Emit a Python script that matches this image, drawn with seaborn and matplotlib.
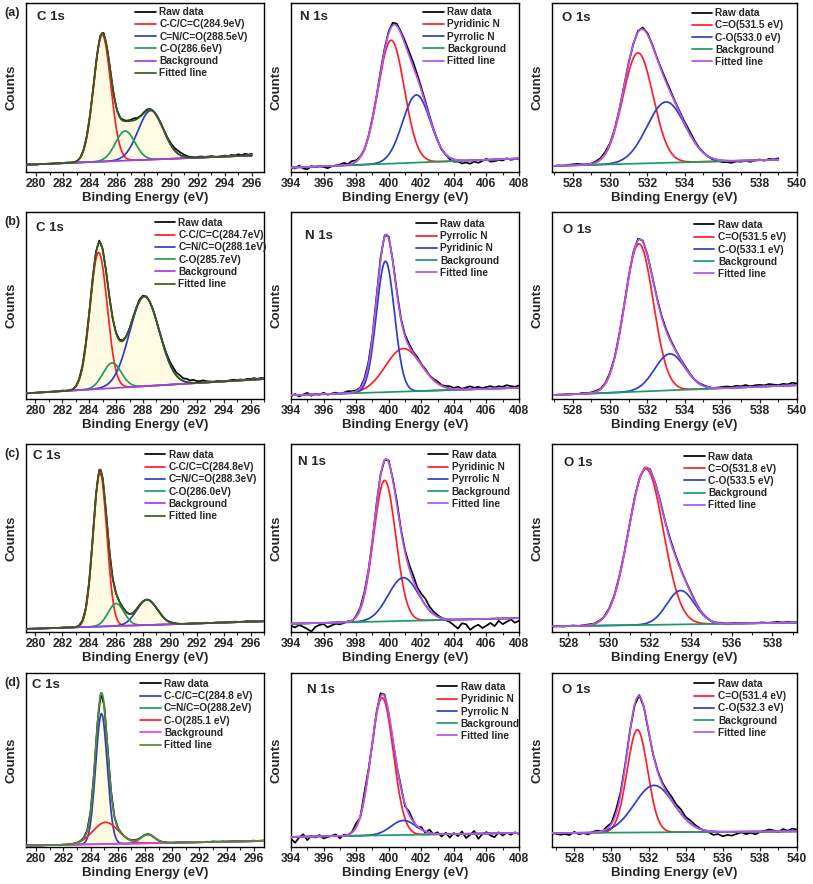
import numpy as np
import matplotlib
matplotlib.use('Agg')
import matplotlib.pyplot as plt
import seaborn as sns
from matplotlib.ticker import MultipleLocator

# ---------------- data (arbitrary count units) ----------------
# peak centres (eV), heights above background, FWHM (eV), background at both ends
# raw_dev = raw data minus fitted line, in 1/1000 units, sampled every 0.25 eV

# row (a)
ca_labels = ['C-C/C=C(284.9eV)', 'C=N/C=O(288.5eV)', 'C-O(286.6eV)']
ca_centers = [284.9, 288.5, 286.6]
ca_heights = [0.75, 0.29, 0.175]
ca_fwhm = [1.5, 2.2, 1.7]
ca_bg = [0.043, 0.098]
ca_raw_start = 279.25
ca_raw_dev = [0, 2, 0, -2, 0, 1, 0, -1, 0, 2,
              0, 0, 3, 2, 0, -2, 0, 3, 5, 4,
              2, 4, 8, 6, 3, 0, -4, -2, 3, 5,
              4, 6, 12, 5, 2, 4, 6, 3, 0, -2,
              2, 4, 6, 10, 14, 18, 16, 12, 6, 4,
              2, 5, 6, 3, 4, 6, 2, 0, 3, 6,
              2, 8, 4, 10, 3, 12, 6, 9]

na_labels = ['Pyridinic N', 'Pyrrolic N']
na_centers = [400.15, 401.7]
na_heights = [0.73, 0.40]
na_fwhm = [1.9, 2.0]
na_bg = [0.026, 0.08]
na_raw_start = 394.0
na_raw_dev = [0, -6, 10, -8, -14, 4, -4, 2,
              -4, -12, -2, 2, 6, 14, 4, 16,
              6, 4, -4, 2, 6, 4, 8, 10,
              12, 16, 14, 10, 18, 22, 26, 20,
              14, 12, 8, 4, 2, -6, -2, -10,
              -14, -8, -18, -12, -20, -8, -16, -6,
              6, -12, -10, -4, -8, 4, -6, -2, 0]

oa_labels = ['C=O(531.5 eV)', 'C-O(533.0 eV)']
oa_centers = [531.5, 533.0]
oa_heights = [0.655, 0.36]
oa_fwhm = [1.9, 2.4]
oa_bg = [0.036, 0.073]
oa_raw_start = 527.0
oa_raw_dev = [0, 2, -2, 4, 6, 8, 4, 2,
              2, 6, 8, 10, 4, 2, 0, 4,
              6, 4, 8, 10, 8, 6, 4, 8,
              12, 10, 6, 8, 10, 14, 8, 4,
              2, -2, -6, -4, -10, -8, -12, -4,
              -6, -2, -8, 0, 4, -4, 6, 2, 8]

# row (b)
cb_labels = ['C-C/C=C(284.7eV)', 'C=N/C=O(288.1eV)', 'C-O(285.7eV)']
cb_centers = [284.7, 288.1, 285.7]
cb_heights = [0.73, 0.48, 0.135]
cb_fwhm = [1.5, 2.6, 1.6]
cb_bg = [0.03, 0.107]
cb_raw_start = 279.25
cb_raw_dev = [0, 1, 0, -1, 0, 2, 0, 1, 0, 0,
              2, 3, 1, 0, -2, 0, 4, 6, 8, 5,
              6, 8, 10, 6, 2, -2, 0, 2, 4, 2,
              0, -2, 2, 4, 8, 6, 4, 2, 3, 2,
              4, 6, 10, 14, 18, 16, 20, 14, 18, 12,
              16, 10, 8, 12, 6, 4, 2, 4, 3, 0,
              2, 4, 6, 3, 5, 2, 6, 4, 8, 3, 6, 4]

nb_labels = ['Pyrrolic N', 'Pyridinic N']
nb_centers = [400.9, 399.8]
nb_heights = [0.23, 0.70]
nb_fwhm = [2.6, 1.3]
nb_bg = [0.02, 0.06]
nb_raw_start = 394.0
nb_raw_dev = [-4, 6, -8, 2, 10, -6, 4, -2,
              8, -4, 2, 6, -2, 4, 10, 6,
              4, 2, 8, 12, 6, 10, 14, 8,
              12, 6, 10, 4, 8, 12, 6, 10,
              4, 8, 2, 6, 10, 4, 8, 12,
              6, 14, 4, 10, 16, 8, 12, 4,
              10, 14, 6, 12, 8, 16, 10, 6, 12]

ob_labels = ['C=O(531.5 eV)', 'C-O(533.1 eV)']
ob_centers = [531.55, 533.2]
ob_heights = [0.79, 0.195]
ob_fwhm = [1.8, 1.9]
ob_bg = [0.021, 0.074]
ob_raw_start = 527.0
ob_raw_dev = [0, 2, 0, 3, 2, 0, 4, 2,
              3, 5, 2, 4, 6, 3, 5, 2,
              4, 6, 8, 5, 3, 2, 4, 6,
              8, 6, 4, 2, 5, 3, 1, 2,
              4, 2, 0, 3, 6, 8, 4, 10,
              6, 12, 4, 8, 10, 6, 12, 8,
              4, 10, 6, 14, 8]

# row (c)
cc_labels = ['C-C/C=C(284.8eV)', 'C=N/C=O(288.3eV)', 'C-O(286.0eV)']
cc_centers = [284.8, 288.3, 286.0]
cc_heights = [0.82, 0.135, 0.12]
cc_fwhm = [1.2, 1.8, 1.4]
cc_bg = [0.016, 0.057]
cc_raw_start = 279.25
cc_raw_dev = [0, 1, 0, -1, 0, 1, 0, 0, 1, 0,
              0, 1, 2, 1, 0, -1, 2, 3, 4, 2,
              3, 6, 4, 2, 0, -2, 0, 1, 2, 3,
              2, 1, 0, 2, 3, 2, 1, 0, 0, 1,
              2, 1, 0, 1, 2, 1, 0, -1, 0, 1,
              2, 1, 0, 1, 2, 0, 1, 2, 1, 0,
              2, 1, 3, 2, 1, 2, 4, 2, 3, 1, 2, 3]

nc_labels = ['Pyridinic N', 'Pyrrolic N']
nc_centers = [399.75, 400.9]
nc_heights = [0.75, 0.23]
nc_fwhm = [1.6, 2.2]
nc_bg = [0.044, 0.074]
nc_raw_start = 394.0
nc_raw_dev = [-12, -20, -8, -18, -30, -44, -20, -10,
              -6, -24, -14, -6, -10, -4, 2, -6,
              4, 6, 10, 0, -6, 4, 8, 2,
              10, 6, 18, 8, 10, 20, 28, 16,
              24, 34, 20, 14, 8, 2, -6, -14,
              -30, -48, -20, -26, -56, -40, -30, -48,
              -36, -22, -40, -12, -30, -18, -6, -24, -14]

oc_labels = ['C=O(531.8 eV)', 'C-O(533.5 eV)']
oc_centers = [531.8, 533.5]
oc_heights = [0.83, 0.18]
oc_fwhm = [2.0, 1.6]
oc_bg = [0.03, 0.05]
oc_raw_start = 527.25
oc_raw_dev = [0, 2, -2, 1, 3, 0, 2, 4,
              2, 3, 1, 4, 2, 5, 3, 4,
              6, 4, 2, 5, 3, 6, 4, 8,
              6, 4, 2, 5, 3, 0, 2, -2,
              0, 3, -1, 2, 4, 1, 3, 0,
              2, 4, 1, 3, 5, 2, 4, 1, 3]

# row (d)
cd_labels = ['C-C/C=C(284.8 eV)', 'C=N/C=O(288.2eV)', 'C-O(285.1 eV)']
cd_centers = [284.8, 288.2, 285.1]
cd_heights = [0.75, 0.05, 0.125]
cd_fwhm = [1.0, 1.2, 2.2]
cd_bg = [0.008, 0.035]
cd_raw_start = 279.25
cd_raw_dev = [0, 0, 1, 0, -1, 0, 1, 0, 0, 1,
              0, 1, 0, 2, 1, 0, 2, 3, 2, 1,
              3, 5, 6, 3, 1, 0, -2, 0, 2, 1,
              0, 1, 2, 1, 0, 2, 3, 2, 1, 0,
              1, 2, 1, 0, 1, 2, 1, 3, 2, 1,
              2, 1, 0, 2, 1, 3, 2, 1, 2, 0,
              1, 2, 3, 1, 2, 0, 2, 3, 1, 2, 3, 2]

nd_labels = ['Pyridinic N', 'Pyrrolic N']
nd_centers = [399.6, 400.9]
nd_heights = [0.79, 0.083]
nd_fwhm = [1.6, 1.8]
nd_bg = [0.058, 0.081]
nd_raw_start = 394.0
nd_raw_dev = [-10, -34, -4, 14, -20, 4, -6, 8,
              -12, -4, 2, 10, -14, 6, -2, 4,
              22, -6, 30, 12, -10, 8, 20, 10,
              -14, -20, -6, 10, -12, 18, 4, -8,
              12, -8, 18, -4, 10, -14, 8, -20,
              6, -12, 14, -24, -6, 16, -30, -4,
              8, -12, -22, 6, -14, 2, -10, 4, -6]

od_labels = ['C=O(531.4 eV)', 'C-O(532.3 eV)']
od_centers = [531.4, 532.3]
od_heights = [0.59, 0.27]
od_fwhm = [1.3, 2.5]
od_bg = [0.08, 0.09]
od_raw_start = 526.75
od_raw_dev = [0, -4, -10, -6, -12, 6, -8, -2,
              -10, 4, 8, -4, 12, 6, 22, 14,
              8, 4, -4, 6, 2, -6, -2, 4,
              8, 14, 20, 16, 24, 12, 18, 10,
              4, -4, -8, -20, -14, -26, -18, -22,
              -12, -4, -14, -6, -16, -2, 4, 12,
              6, -4, 14, 4, 16, 10]

# ---------------- styles ----------------
RED, BLUE, GREEN = '#ff1f2a', '#2b3fc9', '#1f9a63'
PURPLE, OLIVE = '#a63ce6', '#3b5a1a'
VIOLET = '#b653f2'

panels = [
    dict(kind='C', labels=ca_labels, centers=ca_centers, heights=ca_heights, fwhm=ca_fwhm, bg=ca_bg,
         start=ca_raw_start, dev=ca_raw_dev, cols=[RED, BLUE, GREEN], bgc=PURPLE, fitc=OLIVE,
         xlim=(279.25, 296.9), title=(0.045, 0.92), leg=(0.46, 0.975), tag='(a)'),
    dict(kind='N', labels=na_labels, centers=na_centers, heights=na_heights, fwhm=na_fwhm, bg=na_bg,
         start=na_raw_start, dev=na_raw_dev, cols=[RED, BLUE], bgc=GREEN, fitc=VIOLET,
         xlim=(394, 408), title=(0.04, 0.92), leg=(0.58, 0.975)),
    dict(kind='O', labels=oa_labels, centers=oa_centers, heights=oa_heights, fwhm=oa_fwhm, bg=oa_bg,
         start=oa_raw_start, dev=oa_raw_dev, cols=[RED, BLUE], bgc=GREEN, fitc=VIOLET,
         xlim=(526.9, 540), title=(0.04, 0.91), leg=(0.57, 0.97)),
    dict(kind='C', labels=cb_labels, centers=cb_centers, heights=cb_heights, fwhm=cb_fwhm, bg=cb_bg,
         start=cb_raw_start, dev=cb_raw_dev, cols=[RED, BLUE, GREEN], bgc=PURPLE, fitc=OLIVE,
         xlim=(279.3, 297.0), title=(0.04, 0.915), leg=(0.54, 0.968), tag='(b)'),
    dict(kind='N', labels=nb_labels, centers=nb_centers, heights=nb_heights, fwhm=nb_fwhm, bg=nb_bg,
         start=nb_raw_start, dev=nb_raw_dev, cols=[RED, BLUE], bgc=GREEN, fitc=VIOLET,
         xlim=(394, 408), title=(0.06, 0.87), leg=(0.55, 0.963)),
    dict(kind='O', labels=ob_labels, centers=ob_centers, heights=ob_heights, fwhm=ob_fwhm, bg=ob_bg,
         start=ob_raw_start, dev=ob_raw_dev, cols=[RED, BLUE], bgc=GREEN, fitc=VIOLET,
         xlim=(526.9, 540), title=(0.045, 0.905), leg=(0.58, 0.957)),
    dict(kind='C', labels=cc_labels, centers=cc_centers, heights=cc_heights, fwhm=cc_fwhm, bg=cc_bg,
         start=cc_raw_start, dev=cc_raw_dev, cols=[RED, BLUE, GREEN], bgc=PURPLE, fitc=OLIVE,
         xlim=(279.3, 297.0), title=(0.03, 0.935), leg=(0.50, 0.968), tag='(c)'),
    dict(kind='N', labels=nc_labels, centers=nc_centers, heights=nc_heights, fwhm=nc_fwhm, bg=nc_bg,
         start=nc_raw_start, dev=nc_raw_dev, cols=[RED, BLUE], bgc=GREEN, fitc=VIOLET,
         xlim=(394, 408), title=(0.03, 0.905), leg=(0.60, 0.968)),
    dict(kind='O', labels=oc_labels, centers=oc_centers, heights=oc_heights, fwhm=oc_fwhm, bg=oc_bg,
         start=oc_raw_start, dev=oc_raw_dev, cols=[RED, BLUE], bgc=GREEN, fitc=VIOLET,
         xlim=(527.2, 539.2), title=(0.05, 0.9), leg=(0.54, 0.96)),
    dict(kind='C', labels=cd_labels, centers=cd_centers, heights=cd_heights, fwhm=cd_fwhm, bg=cd_bg,
         start=cd_raw_start, dev=cd_raw_dev, cols=[BLUE, GREEN, RED], bgc='#e040e8', fitc='#4f8a3c',
         xlim=(279.25, 296.75), title=(0.025, 0.93), leg=(0.48, 0.966), tag='(d)'),
    dict(kind='N', labels=nd_labels, centers=nd_centers, heights=nd_heights, fwhm=nd_fwhm, bg=nd_bg,
         start=nd_raw_start, dev=nd_raw_dev, cols=[RED, BLUE], bgc=GREEN, fitc=VIOLET,
         xlim=(394, 408), title=(0.07, 0.9), leg=(0.64, 0.948)),
    dict(kind='O', labels=od_labels, centers=od_centers, heights=od_heights, fwhm=od_fwhm, bg=od_bg,
         start=od_raw_start, dev=od_raw_dev, cols=[RED, BLUE], bgc=GREEN, fitc=VIOLET,
         xlim=(526.8, 540), title=(0.04, 0.9), leg=(0.58, 0.966)),
]

sns.set_theme(style='ticks')
plt.rcParams['font.family'] = ['Liberation Sans', 'DejaVu Sans']
plt.rcParams['font.weight'] = 'bold'
plt.rcParams['axes.linewidth'] = 1.0

W, H = 813, 884
fig = plt.figure(figsize=(W / 100, H / 100), dpi=100)

col_px = [(26, 264), (291, 519), (552, 797)]
row_px = [(3, 172), (212, 399), (444, 632), (673, 847)]


def gauss(x, c, h, w):
    return h * np.exp(-4 * np.log(2) * ((x - c) / w) ** 2)


for i, p in enumerate(panels):
    r, c = divmod(i, 3)
    l, rr = col_px[c]
    t, b = row_px[r]
    ax = fig.add_axes([l / W, 1 - b / H, (rr - l) / W, (b - t) / H])

    xr = p['start'] + 0.25 * np.arange(len(p['dev']))
    x0, x1 = xr[0], xr[-1]
    xf = np.linspace(x0, x1, 800)

    def base(x):
        return p['bg'][0] + (p['bg'][1] - p['bg'][0]) * (x - x0) / (x1 - x0)

    def model(x):
        return base(x) + sum(gauss(x, cc, hh, ww) for cc, hh, ww in
                             zip(p['centers'], p['heights'], p['fwhm']))

    raw = model(xr) + np.array(p['dev']) / 1000.0
    fit = model(xf)

    if p['kind'] == 'C':
        ax.fill_between(xf, base(xf), fit, color='#fffbe3', lw=0, zorder=1)

    lw = 1.25
    sns.lineplot(x=xr, y=raw, color='black', lw=lw, label='Raw data', ax=ax,
                 estimator=None, sort=False, zorder=3)
    for cc, hh, ww, col, lab in zip(p['centers'], p['heights'], p['fwhm'], p['cols'], p['labels']):
        sns.lineplot(x=xf, y=base(xf) + gauss(xf, cc, hh, ww), color=col, lw=lw, label=lab,
                     ax=ax, estimator=None, sort=False, zorder=4)
    sns.lineplot(x=xf, y=base(xf), color=p['bgc'], lw=lw, label='Background', ax=ax,
                 estimator=None, sort=False, zorder=4)
    sns.lineplot(x=xf, y=fit, color=p['fitc'], lw=lw, label='Fitted line', ax=ax,
                 estimator=None, sort=False, zorder=5)

    ax.set_xlim(*p['xlim'])
    ax.set_ylim(0, 1)
    ax.set_yticks([])
    ax.xaxis.set_major_locator(MultipleLocator(2))
    ax.xaxis.set_minor_locator(MultipleLocator(1))
    ax.tick_params(axis='x', which='major', direction='out', length=3, width=0.9,
                   labelsize=8.7, pad=1.5)
    ax.tick_params(axis='x', which='minor', direction='out', length=1.8, width=0.8)
    for lab in ax.get_xticklabels():
        lab.set_fontweight('bold')
    for s in ax.spines.values():
        s.set_visible(True)
        s.set_color('black')
        s.set_linewidth(1.0)

    ax.set_xlabel('Binding Energy (eV)', fontsize=9.5, fontweight='bold', labelpad=1.5)
    ax.set_ylabel('Counts', fontsize=9.5, fontweight='bold', labelpad=6)
    ax.text(p['title'][0], p['title'][1], p['kind'] + ' 1s', transform=ax.transAxes,
            fontsize=9.5, fontweight='bold', va='center', ha='left')

    handles, labels = ax.get_legend_handles_labels()
    ax.legend(handles, labels, loc='upper left', bbox_to_anchor=p['leg'], frameon=False,
              prop={'size': 7.3, 'weight': 'bold'}, handlelength=2.0, handletextpad=0.35,
              labelspacing=0.22, borderpad=0, borderaxespad=0)

    if 'tag' in p:
        fig.text(4 / W, 1 - (t + 10) / H, p['tag'], fontsize=9, fontweight='bold',
                 ha='left', va='center')

fig.savefig('out.png', dpi=100)
